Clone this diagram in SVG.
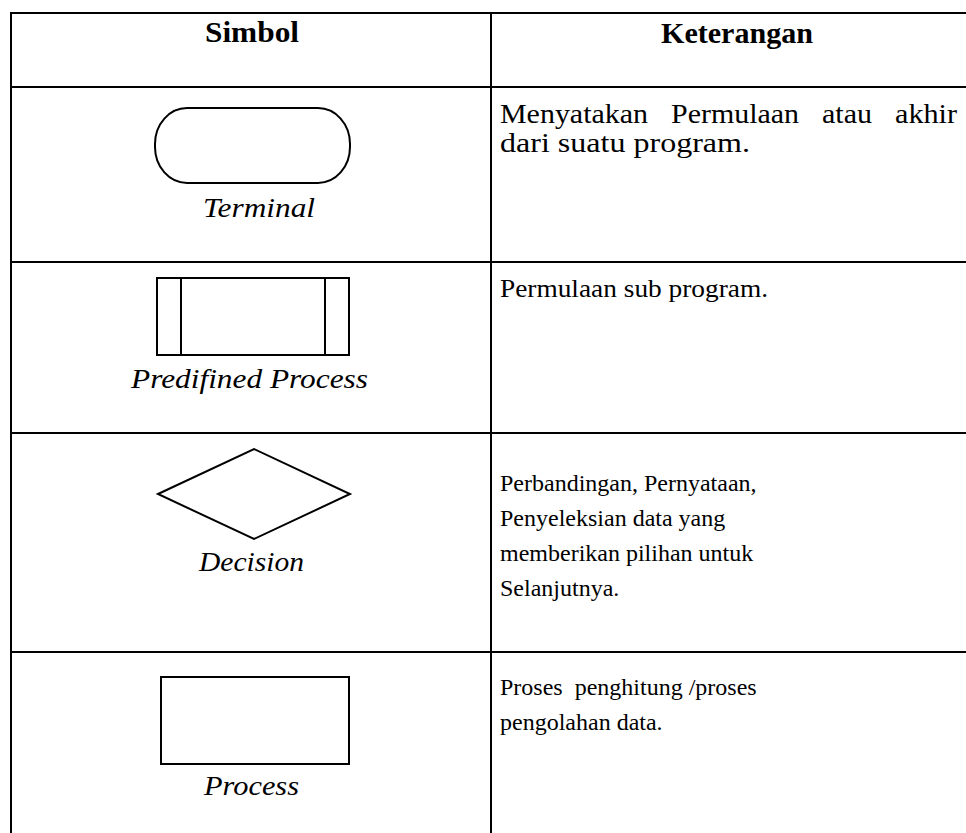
<svg xmlns="http://www.w3.org/2000/svg" width="966" height="833" viewBox="0 0 966 833">
<style>
.grid{stroke:#000;stroke-width:2;fill:none}
.shape{stroke:#000;stroke-width:2;fill:#fff}
.hdr{font-weight:bold;font-size:29px}
.lbl{font-style:italic;font-size:28px}
.d1{font-size:27px}
.d2{font-size:26px}
.d3{font-size:24px}
</style>
<rect width="966" height="833" fill="#fff"/>
<g id="table" class="grid">
<line x1="11" y1="13" x2="966" y2="13"/>
<line x1="11" y1="87" x2="966" y2="87"/>
<line x1="11" y1="262" x2="966" y2="262"/>
<line x1="11" y1="433" x2="966" y2="433"/>
<line x1="11" y1="652" x2="966" y2="652"/>
<line x1="11" y1="12" x2="11" y2="833"/>
<line x1="491" y1="12" x2="491" y2="833"/>
</g>
<g font-family="Liberation Serif, Times New Roman, serif" fill="#000">
<g id="header">
<text class="hdr" x="205" y="42" textLength="94" lengthAdjust="spacingAndGlyphs">Simbol</text>
<text class="hdr" x="661" y="43" textLength="152" lengthAdjust="spacingAndGlyphs">Keterangan</text>
</g>
<g id="terminal">
<rect class="shape" x="155" y="108" width="195" height="75" rx="32" ry="36"/>
<text class="lbl" x="203" y="217" textLength="112" lengthAdjust="spacingAndGlyphs">Terminal</text>
<text class="d1" x="500" y="123" textLength="148" lengthAdjust="spacingAndGlyphs">Menyatakan</text>
<text class="d1" x="671" y="123" textLength="128" lengthAdjust="spacingAndGlyphs">Permulaan</text>
<text class="d1" x="822" y="123" textLength="50" lengthAdjust="spacingAndGlyphs">atau</text>
<text class="d1" x="895" y="123" textLength="62" lengthAdjust="spacingAndGlyphs">akhir</text>
<text class="d1" x="500" y="152" textLength="250" lengthAdjust="spacingAndGlyphs">dari suatu program.</text>
</g>
<g id="predefined">
<rect class="shape" x="157" y="278" width="192" height="77"/>
<line class="grid" x1="181" y1="278" x2="181" y2="355"/>
<line class="grid" x1="325" y1="278" x2="325" y2="355"/>
<text class="lbl" x="131" y="388" textLength="237" lengthAdjust="spacingAndGlyphs">Predifined Process</text>
<text class="d2" x="500" y="297" textLength="268" lengthAdjust="spacingAndGlyphs">Permulaan sub program.</text>
</g>
<g id="decision">
<polygon class="shape" points="158,494 254,449 350,494 254,539"/>
<text class="lbl" x="199" y="571" textLength="105" lengthAdjust="spacingAndGlyphs">Decision</text>
<text class="d3" x="500" y="491">Perbandingan, Pernyataan,</text>
<text class="d3" x="500" y="526">Penyeleksian data yang</text>
<text class="d3" x="500" y="561">memberikan pilihan untuk</text>
<text class="d3" x="500" y="596">Selanjutnya.</text>
</g>
<g id="process">
<rect class="shape" x="161" y="677" width="188" height="87"/>
<text class="lbl" x="204" y="795" textLength="95" lengthAdjust="spacingAndGlyphs">Process</text>
<text class="d3" x="500" y="695" xml:space="preserve">Proses  penghitung /proses</text>
<text class="d3" x="500" y="730">pengolahan data.</text>
</g>
</g>
</svg>
